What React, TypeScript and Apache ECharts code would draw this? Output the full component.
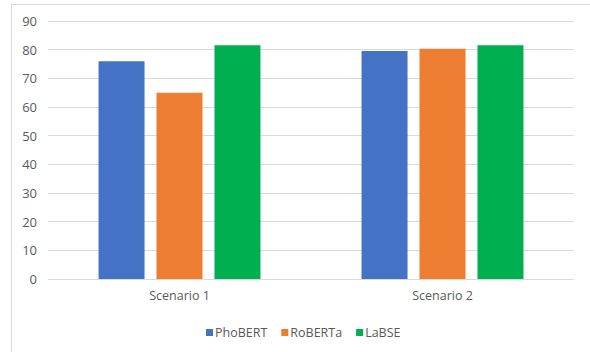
import React, { useEffect, useRef } from "react";
import * as echarts from "echarts";

const categories = ["Scenario 1", "Scenario 2"];
const seriesNames = ["PhoBERT", "RoBERTa", "LaBSE"];
const phobert = [76.0, 79.5];
const roberta = [65.0, 80.3];
const labse = [81.5, 81.5];
const yTicks = [0, 10, 20, 30, 40, 50, 60, 70, 80, 90];
const colors = ["#4472C4", "#ED7D31", "#00B050"];

const FONT = "'Open Sans', sans-serif";
const TEXT = "#595959";

export default function App() {
  const ref = useRef<HTMLDivElement>(null);

  useEffect(() => {
    document.body.style.margin = "0";
    const chart = echarts.init(ref.current!, undefined, { renderer: "svg" });
    const values = [phobert, roberta, labse];
    chart.setOption({
      animation: false,
      backgroundColor: "#ffffff",
      textStyle: { fontFamily: FONT },
      graphic: [
        {
          type: "rect",
          shape: { x: 11.5, y: 4.5, width: 620, height: 400 },
          style: { fill: "none", stroke: "#d9d9d9", lineWidth: 1 },
          silent: true,
        },
      ],
      grid: { left: 48, right: 16, top: 21, bottom: 73 },
      legend: {
        left: 201,
        top: 321,
        itemWidth: 7,
        itemHeight: 7,
        itemGap: 14,
        icon: "rect",
        data: seriesNames,
        textStyle: { color: TEXT, fontSize: 12.5, fontFamily: FONT, padding: [0, 0, 0, -3] },
      },
      xAxis: {
        type: "category",
        data: categories,
        axisLine: { show: false },
        axisTick: { show: false },
        axisLabel: { color: TEXT, fontSize: 12.5, margin: 10, fontFamily: FONT },
      },
      yAxis: {
        type: "value",
        min: yTicks[0],
        max: yTicks[yTicks.length - 1],
        interval: 10,
        axisLine: { show: false },
        axisTick: { show: false },
        axisLabel: { color: TEXT, fontSize: 13, margin: 11, fontFamily: FONT },
        splitLine: { lineStyle: { color: "#d9d9d9", width: 1 } },
      },
      series: seriesNames.map((name, i) => ({
        name,
        type: "bar",
        data: values[i],
        barWidth: 46,
        barGap: "26%",
        itemStyle: { color: colors[i] },
      })),
    });
    return () => chart.dispose();
  }, []);

  return <div ref={ref} style={{ width: 590, height: 352 }} />;
}
